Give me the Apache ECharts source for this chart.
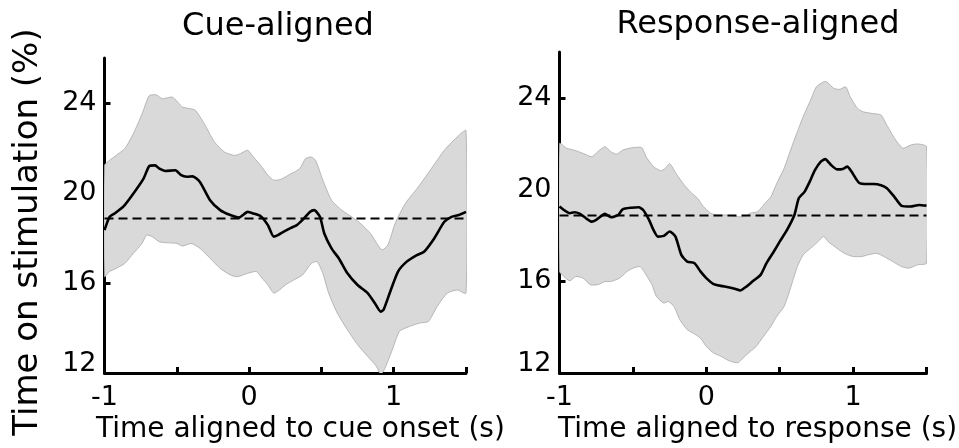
<!DOCTYPE html>
<html>
<head>
<meta charset="utf-8">
<script src="https://cdn.jsdelivr.net/npm/echarts@6/dist/echarts.min.js"></script>
<style>
html,body{margin:0;padding:0;background:#fff;}
#chart{width:959px;height:448px;}
</style>
</head>
<body>
<div id="chart"></div>
<script>
// ---- Data ----
var titles = ['Cue-aligned', 'Response-aligned'];
var xNames = ['Time aligned to cue onset (s)', 'Time aligned to response (s)'];
var yName = 'Time on stimulation (%)';
var xTicks = [-1, -0.5, 0, 0.5, 1, 1.5];
var xLabels = [-1, 0, 1];
var yTicks = [12, 16, 20, 24];
var baseline = 18.87;

// Cue-aligned: mean, upper band, lower band  ([time, value])
var cueMean = [[-1,18.35],[-0.965,18.94],[-0.93,19.09],[-0.87,19.39],[-0.80,19.98],[-0.73,20.64],[-0.69,21.20],[-0.65,21.23],[-0.62,21.08],[-0.58,20.98],[-0.51,21.01],[-0.47,20.79],[-0.43,20.72],[-0.39,20.74],[-0.34,20.49],[-0.27,19.68],[-0.20,19.24],[-0.13,19.02],[-0.07,18.91],[-0.01,19.16],[0.03,19.09],[0.08,18.97],[0.13,18.57],[0.17,18.06],[0.20,18.13],[0.24,18.28],[0.29,18.45],[0.33,18.57],[0.38,18.87],[0.42,19.16],[0.45,19.24],[0.49,18.94],[0.52,18.20],[0.57,17.54],[0.62,17.10],[0.68,16.43],[0.75,15.91],[0.82,15.55],[0.87,15.10],[0.91,14.73],[0.93,14.81],[0.98,15.69],[1.03,16.51],[1.09,16.95],[1.16,17.24],[1.21,17.39],[1.28,17.98],[1.35,18.72],[1.40,18.94],[1.45,19.02],[1.5,19.16]];
var cueUpper = [[-1,21.23],[-0.965,21.45],[-0.92,21.67],[-0.86,21.97],[-0.80,22.64],[-0.74,23.52],[-0.69,24.33],[-0.64,24.36],[-0.60,24.19],[-0.53,24.26],[-0.46,23.82],[-0.40,23.74],[-0.37,23.67],[-0.31,23.08],[-0.24,22.27],[-0.17,21.82],[-0.10,21.67],[-0.06,21.75],[-0.01,21.90],[0.03,21.60],[0.08,21.23],[0.13,20.79],[0.17,20.57],[0.22,20.61],[0.29,20.86],[0.35,21.08],[0.39,21.53],[0.43,21.60],[0.46,21.45],[0.51,20.57],[0.57,19.68],[0.64,19.24],[0.71,18.94],[0.77,18.65],[0.84,18.20],[0.89,17.69],[0.92,17.47],[0.96,17.69],[1.01,18.65],[1.08,19.53],[1.17,20.27],[1.26,21.08],[1.35,21.90],[1.45,22.56],[1.5,22.78]];
var cueLower = [[-1,16.28],[-0.965,16.51],[-0.92,16.65],[-0.86,16.87],[-0.80,17.32],[-0.74,17.76],[-0.71,18.13],[-0.67,18.06],[-0.62,17.83],[-0.57,17.79],[-0.50,17.76],[-0.46,17.64],[-0.40,17.76],[-0.34,17.54],[-0.27,17.10],[-0.20,16.65],[-0.13,16.36],[-0.08,16.28],[-0.01,16.43],[0.05,16.51],[0.09,16.21],[0.13,15.91],[0.17,15.55],[0.21,15.69],[0.25,15.91],[0.31,16.14],[0.37,16.36],[0.43,16.87],[0.47,16.95],[0.51,16.43],[0.55,15.55],[0.61,14.66],[0.68,13.92],[0.75,13.26],[0.82,12.74],[0.88,12.30],[0.91,11.93],[0.94,12.22],[0.99,13.03],[1.04,13.85],[1.11,14.07],[1.18,14.22],[1.24,14.29],[1.30,14.95],[1.37,15.55],[1.44,15.69],[1.5,15.55]];

// Response-aligned
var respMean = [[-1,19.26],[-0.97,19.11],[-0.93,18.97],[-0.90,19.01],[-0.86,18.94],[-0.82,18.75],[-0.78,18.60],[-0.75,18.68],[-0.69,18.94],[-0.65,18.79],[-0.60,18.89],[-0.57,19.14],[-0.51,19.21],[-0.46,19.23],[-0.43,19.11],[-0.39,18.68],[-0.36,18.24],[-0.33,17.95],[-0.29,17.98],[-0.25,18.17],[-0.21,17.95],[-0.17,17.15],[-0.13,16.86],[-0.08,16.79],[-0.04,16.43],[0.00,16.14],[0.05,15.88],[0.10,15.80],[0.15,15.74],[0.20,15.66],[0.23,15.60],[0.28,15.80],[0.32,16.02],[0.37,16.28],[0.41,16.79],[0.46,17.30],[0.50,17.73],[0.55,18.24],[0.60,18.89],[0.63,19.62],[0.67,19.91],[0.71,20.42],[0.74,20.85],[0.78,21.22],[0.81,21.33],[0.85,21.07],[0.89,20.88],[0.93,20.90],[0.96,21.00],[0.99,20.78],[1.04,20.30],[1.10,20.24],[1.14,20.24],[1.19,20.19],[1.23,20.06],[1.28,19.69],[1.33,19.29],[1.39,19.26],[1.45,19.33],[1.5,19.30]];
var respUpper = [[-1,22.01],[-0.95,21.80],[-0.90,21.72],[-0.84,21.58],[-0.78,21.43],[-0.74,21.65],[-0.69,21.87],[-0.65,21.65],[-0.61,21.54],[-0.57,21.72],[-0.50,21.83],[-0.44,21.83],[-0.41,21.43],[-0.36,21.00],[-0.31,20.82],[-0.28,20.92],[-0.25,21.14],[-0.20,20.64],[-0.15,20.20],[-0.11,19.91],[-0.06,19.62],[-0.02,19.26],[0.03,18.97],[0.07,18.89],[0.14,18.89],[0.21,18.82],[0.26,18.82],[0.30,18.97],[0.35,19.04],[0.39,19.33],[0.44,19.69],[0.48,20.27],[0.53,20.93],[0.57,21.65],[0.62,22.52],[0.66,23.18],[0.71,23.90],[0.75,24.48],[0.80,24.70],[0.82,24.70],[0.87,24.41],[0.91,24.37],[0.95,24.48],[0.98,24.05],[1.03,23.54],[1.07,23.39],[1.13,23.32],[1.19,23.25],[1.23,22.81],[1.29,22.16],[1.34,21.80],[1.39,21.94],[1.44,21.99],[1.5,21.87]];
var respLower = [[-1,16.43],[-0.97,16.21],[-0.93,16.02],[-0.89,16.21],[-0.84,16.14],[-0.79,15.85],[-0.74,15.85],[-0.69,15.99],[-0.65,15.99],[-0.59,16.14],[-0.54,16.43],[-0.50,16.57],[-0.45,16.64],[-0.41,16.28],[-0.37,15.85],[-0.34,15.34],[-0.29,15.05],[-0.26,15.12],[-0.22,14.90],[-0.18,14.32],[-0.13,13.89],[-0.09,13.74],[-0.04,13.52],[0.00,13.16],[0.05,12.87],[0.10,12.73],[0.14,12.58],[0.19,12.46],[0.22,12.46],[0.25,12.65],[0.30,12.94],[0.34,13.16],[0.39,13.60],[0.44,14.03],[0.48,14.47],[0.53,14.90],[0.57,15.63],[0.62,16.64],[0.66,17.15],[0.71,17.44],[0.75,17.66],[0.80,17.95],[0.83,17.73],[0.89,17.44],[0.94,17.22],[1.00,17.08],[1.06,17.08],[1.10,17.15],[1.16,17.22],[1.21,17.08],[1.27,16.86],[1.33,16.64],[1.38,16.57],[1.44,16.72],[1.5,16.79]];

// ---- Chart ----
var FONT = 'DejaVu Sans';
var panels = [
  {upper: cueUpper, lower: cueLower, mean: cueMean},
  {upper: respUpper, lower: respLower, mean: respMean}
];
var grids = [
  {left: 104.5, top: 58, width: 361.5, height: 315},
  {left: 559.5, top: 52, width: 367, height: 321}
];

function makeBand(upper, lower) {
  return function (params, api) {
    if (params.dataIndex !== 0) return null;
    var pts = [];
    for (var i = 0; i < upper.length; i++) pts.push(api.coord(upper[i]));
    for (var j = lower.length - 1; j >= 0; j--) pts.push(api.coord(lower[j]));
    return {
      type: 'polygon',
      shape: {points: pts, smooth: 0.2},
      style: {fill: '#d9d9d9', stroke: '#a8a8a8', lineWidth: 0.8}
    };
  };
}

var xAxes = [], yAxes = [], series = [];
panels.forEach(function (p, k) {
  xAxes.push({
    gridIndex: k, type: 'value', min: -1, max: 1.5, interval: 0.5,
    axisLine: {show: true, onZero: false, lineStyle: {color: '#000', width: 3}},
    axisTick: {show: true, inside: true, length: 6, customValues: xTicks, lineStyle: {color: '#000', width: 3}},
    axisLabel: {customValues: xLabels, margin: 11, color: '#000', fontSize: 27, fontFamily: FONT},
    splitLine: {show: false}
  });
  yAxes.push({
    gridIndex: k, type: 'value', min: 12, max: 26, interval: 4,
    axisLine: {show: true, onZero: false, lineStyle: {color: '#000', width: 3}},
    axisTick: {show: true, inside: true, length: 6, customValues: yTicks, lineStyle: {color: '#000', width: 3}},
    axisLabel: {
      customValues: yTicks, margin: 8, color: '#000', fontSize: 27, fontFamily: FONT,
      formatter: function (v) { return v === 12 ? '{lo|12}' : String(v); },
      rich: {lo: {fontSize: 27, fontFamily: FONT, color: '#000', padding: [0, 0, 18, 0]}}
    },
    splitLine: {show: false}
  });
  series.push({
    type: 'custom', xAxisIndex: k, yAxisIndex: k, clip: true, silent: true,
    renderItem: makeBand(p.upper, p.lower),
    data: [p.upper[0]], z: 1
  });
  series.push({
    type: 'line', xAxisIndex: k, yAxisIndex: k, showSymbol: false, silent: true,
    data: [[-1, baseline], [1.5, baseline]],
    lineStyle: {color: '#000', width: 2, type: [9, 5]}, z: 2
  });
  series.push({
    type: 'line', xAxisIndex: k, yAxisIndex: k, showSymbol: false, silent: true,
    data: p.mean, smooth: 0.2,
    lineStyle: {color: '#000', width: 2.6}, z: 3
  });
});

var chart = echarts.init(document.getElementById('chart'), null, {renderer: 'canvas'});
chart.setOption({
  animation: false,
  backgroundColor: '#fff',
  grid: grids,
  xAxis: xAxes,
  yAxis: yAxes,
  series: series,
  graphic: [
    {type: 'text', x: 278, y: 27, style: {text: titles[0], font: '32px "DejaVu Sans"', fill: '#000', align: 'center', verticalAlign: 'middle'}},
    {type: 'text', x: 758, y: 24.5, style: {text: titles[1], font: '32px "DejaVu Sans"', fill: '#000', align: 'center', verticalAlign: 'middle'}},
    {type: 'text', x: 96, y: 430, style: {text: xNames[0], font: '28px "DejaVu Sans"', fill: '#000', align: 'left', verticalAlign: 'middle'}},
    {type: 'text', x: 558, y: 430, style: {text: xNames[1], font: '28px "DejaVu Sans"', fill: '#000', align: 'left', verticalAlign: 'middle'}},
    {type: 'text', x: 28, y: 232, rotation: Math.PI / 2, style: {text: yName, font: '34px "DejaVu Sans"', fill: '#000', align: 'center', verticalAlign: 'middle'}}
  ]
});
</script>
</body>
</html>
